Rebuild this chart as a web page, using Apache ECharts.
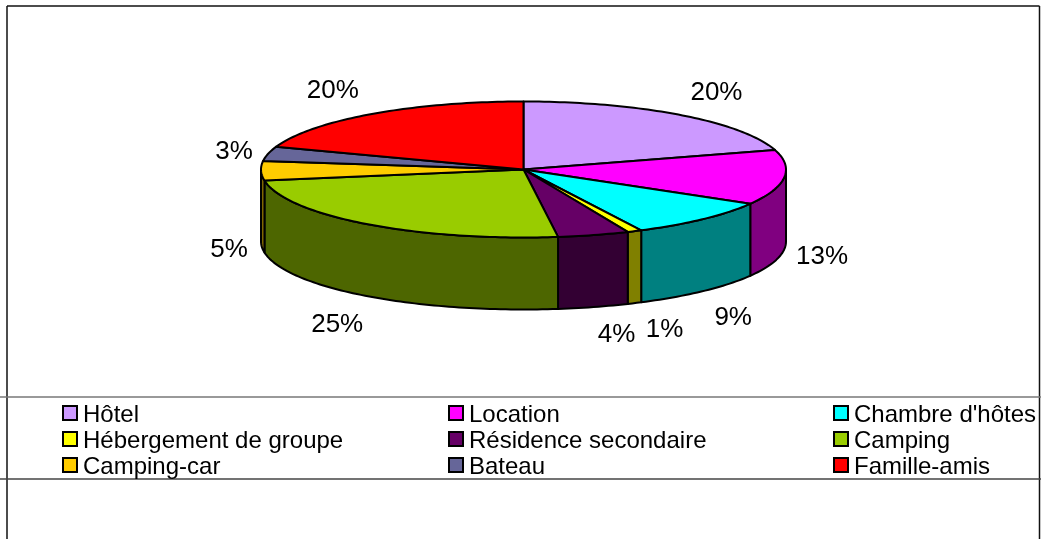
<!DOCTYPE html>
<html>
<head>
<meta charset="utf-8">
<style>
  html, body { margin: 0; padding: 0; background: #fff; }
  #chart { width: 1041px; height: 539px; }
</style>
<script src="https://cdn.jsdelivr.net/npm/echarts@6/dist/echarts.min.js"></script>
</head>
<body>
<div id="chart"></div>
<script>
const categories = ['Hôtel', 'Location', "Chambre d'hôtes", 'Hébergement de groupe', 'Résidence secondaire', 'Camping', 'Camping-car', 'Bateau', 'Famille-amis'];
const values = [20.4, 13, 9.2, 0.9, 4.4, 24.5, 4.6, 3.4, 19.6];
const topColors = ['#CC99FF', '#FF00FF', '#00FFFF', '#FFFF00', '#660066', '#99CC00', '#FFCC00', '#666699', '#FF0000'];
const wallColors = ['#664D80', '#800080', '#008080', '#808000', '#330033', '#4D6600', '#806600', '#333350', '#800000'];
const labelOffsets = [[36, -23], [38, 6], [30, 26], [30, 26], [23, 27], [-30, 28], [-32, 6], [-34, -3], [-39, -24]];

// pie drawn by hand, echarts has no 3d pie
const cx = 523.5, cy = 169.5, rx = 262.5, ry = 68, depth = 72;
const total = values.reduce((a, b) => a + b, 0);

function rim(t, dy) {
  return [cx + rx * Math.sin(t), cy - ry * Math.cos(t) + (dy || 0)];
}

function arc(from, to, dy) {
  const pts = [];
  const n = Math.max(2, Math.ceil((to - from) / 0.02));
  for (let i = 0; i <= n; i++) pts.push(rim(from + (to - from) * i / n, dy));
  return pts;
}

function renderSlice(idx) {
  let before = 0;
  for (let i = 0; i < idx; i++) before += values[i];
  return function (params, api) {
    const from = before / total * Math.PI * 2;
    const to = from + api.value(0) / total * Math.PI * 2;
    const mid = (from + to) / 2;
    const children = [];
    const line = { stroke: '#000', lineWidth: 2, lineJoin: 'round' };

    // the side wall only shows on the front half
    const a = Math.max(from, Math.PI / 2), b = Math.min(to, Math.PI * 1.5);
    if (b > a) {
      children.push({
        type: 'polygon',
        shape: { points: arc(a, b).concat(arc(a, b, depth).reverse()) },
        style: Object.assign({ fill: wallColors[idx] }, line)
      });
    }
    children.push({
      type: 'polygon',
      shape: { points: [[cx, cy]].concat(arc(from, to)) },
      style: Object.assign({ fill: topColors[idx] }, line)
    });

    const front = mid > Math.PI / 2 && mid < Math.PI * 1.5;
    const p = rim(mid, front ? depth : 0);
    children.push({
      type: 'text',
      z2: 10,
      x: p[0] + labelOffsets[idx][0],
      y: p[1] + labelOffsets[idx][1] + 1,
      style: {
        text: Math.round(api.value(0)) + '%',
        fill: '#000',
        font: '26px "Liberation Sans", Arial, sans-serif',
        align: 'center',
        verticalAlign: 'middle'
      }
    });
    return { type: 'group', children };
  };
}

const legendBase = {
  orient: 'vertical',
  top: 399,
  icon: 'rect',
  itemWidth: 14,
  itemHeight: 14,
  itemGap: -2,
  padding: 0,
  selectedMode: false,
  itemStyle: { borderColor: '#000', borderWidth: 2 },
  formatter: '{t|{name}}',
  textStyle: {
    color: '#000',
    rich: {
      // rich text so the label can sit a little lower than its swatch
      t: { fontFamily: '"Liberation Sans", Arial, sans-serif', fontSize: 24, lineHeight: 22, color: '#000', padding: [4, 0, 0, 1] }
    }
  }
};

const chart = echarts.init(document.getElementById('chart'));
chart.setOption({
  animation: false,
  backgroundColor: '#fff',
  graphic: [
    { type: 'line', shape: { x1: 7, y1: 6, x2: 7, y2: 539 }, style: { stroke: '#111', lineWidth: 1.5 } },
    { type: 'line', shape: { x1: 7, y1: 6, x2: 1039.5, y2: 6 }, style: { stroke: '#111', lineWidth: 1.5 } },
    { type: 'line', shape: { x1: 1039.5, y1: 6, x2: 1039.5, y2: 539 }, style: { stroke: '#111', lineWidth: 1.5 } },
    { type: 'line', shape: { x1: 0, y1: 397, x2: 1041, y2: 397 }, style: { stroke: '#777', lineWidth: 1.5 } },
    { type: 'line', shape: { x1: 0, y1: 479, x2: 1041, y2: 479 }, style: { stroke: '#444', lineWidth: 1.5 } }
  ],
  legend: [
    Object.assign({}, legendBase, { left: 62, data: [categories[0], categories[3], categories[6]] }),
    Object.assign({}, legendBase, { left: 448, data: [categories[1], categories[4], categories[7]] }),
    Object.assign({}, legendBase, { left: 833, data: [categories[2], categories[5], categories[8]] })
  ],
  series: categories.map((name, i) => ({
    type: 'custom',
    name,
    coordinateSystem: 'none',
    silent: true,
    itemStyle: { color: topColors[i] },
    data: [[values[i]]],
    renderItem: renderSlice(i)
  }))
});
</script>
</body>
</html>
